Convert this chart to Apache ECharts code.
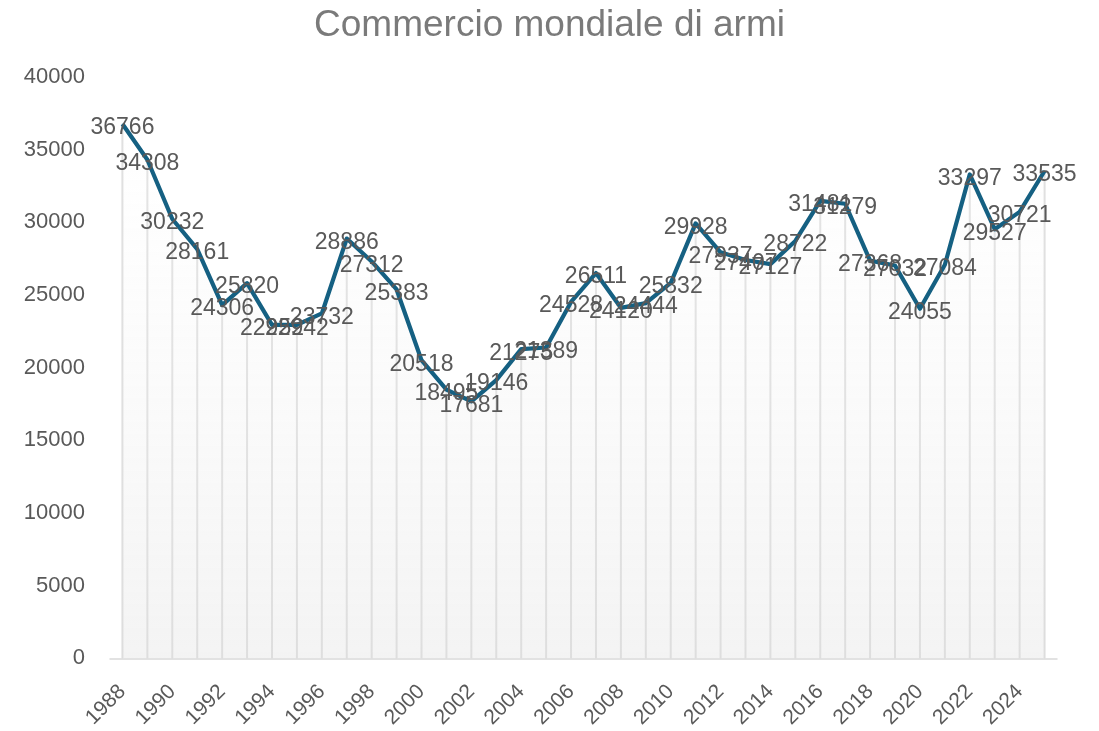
<!DOCTYPE html>
<html>
<head>
<meta charset="utf-8">
<script src="https://cdn.jsdelivr.net/npm/echarts@6/dist/echarts.min.js"></script>
<style>
    html, body { margin: 0; padding: 0; background: #fff; }
    #myChart { width: 1099px; height: 731px; }
</style>
</head>
<body>
<div id="myChart"></div>
<script>
    // dati
    var anni = ['1988', '1989', '1990', '1991', '1992', '1993', '1994', '1995', '1996', '1997',
        '1998', '1999', '2000', '2001', '2002', '2003', '2004', '2005', '2006', '2007',
        '2008', '2009', '2010', '2011', '2012', '2013', '2014', '2015', '2016', '2017',
        '2018', '2019', '2020', '2021', '2022', '2023', '2024', '2025'];
    var commercio = [36766, 34308, 30232, 28161, 24306, 25820, 22952, 22942, 23732, 28886,
        27312, 25383, 20518, 18495, 17681, 19146, 21275, 21389, 24528, 26511,
        24120, 24444, 25832, 29928, 27937, 27407, 27127, 28722, 31481, 31279,
        27368, 27032, 24055, 27084, 33297, 29527, 30721, 33535];

    var grigio = '#595959';
    var myChart = echarts.init(document.getElementById('myChart'));
    myChart.setOption({
        animation: false,
        title: {
            text: 'Commercio mondiale di armi',
            left: 'center',
            top: 2,
            textStyle: { fontSize: 37, fontWeight: 'normal', color: '#7a7a7a', fontFamily: 'Liberation Sans' }
        },
        grid: { left: 110, right: 42, top: 77, bottom: 70 },
        xAxis: {
            type: 'category',
            data: anni,
            boundaryGap: true,
            axisLine: { lineStyle: { color: '#d9d9d9', width: 1.5 } },
            axisTick: { show: false },
            axisLabel: {
                interval: 1,
                rotate: 45,
                color: grigio,
                fontSize: 21,
                fontFamily: 'Liberation Sans',
                margin: 30
            }
        },
        yAxis: {
            type: 'value',
            min: 0,
            max: 40000,
            interval: 5000,
            splitLine: { show: false },
            axisLine: { show: false },
            axisTick: { show: false },
            axisLabel: {
                color: grigio,
                fontSize: 22,
                fontFamily: 'Liberation Sans',
                margin: 25,
                formatter: function (v) { return String(v); }
            }
        },
        series: [
            {
                // linee verticali sotto i punti
                type: 'bar',
                data: commercio,
                barWidth: 2,
                silent: true,
                itemStyle: { color: '#dcdcdc' },
                z: 1
            },
            {
                type: 'line',
                data: commercio,
                symbol: 'circle',
                symbolSize: 1,
                showSymbol: true,
                itemStyle: { color: '#156082' },
                lineStyle: { color: '#156082', width: 4.2, join: 'round' },
                areaStyle: {
                    color: new echarts.graphic.LinearGradient(0, 0, 0, 1, [
                        { offset: 0, color: 'rgba(255,255,255,0.3)' },
                        { offset: 1, color: 'rgba(225,225,225,0.55)' }
                    ])
                },
                label: {
                    show: true,
                    position: 'inside',
                    offset: [0, 4],
                    color: grigio,
                    fontSize: 23,
                    fontFamily: 'Liberation Sans'
                },
                z: 3
            }
        ]
    });
</script>
</body>
</html>
